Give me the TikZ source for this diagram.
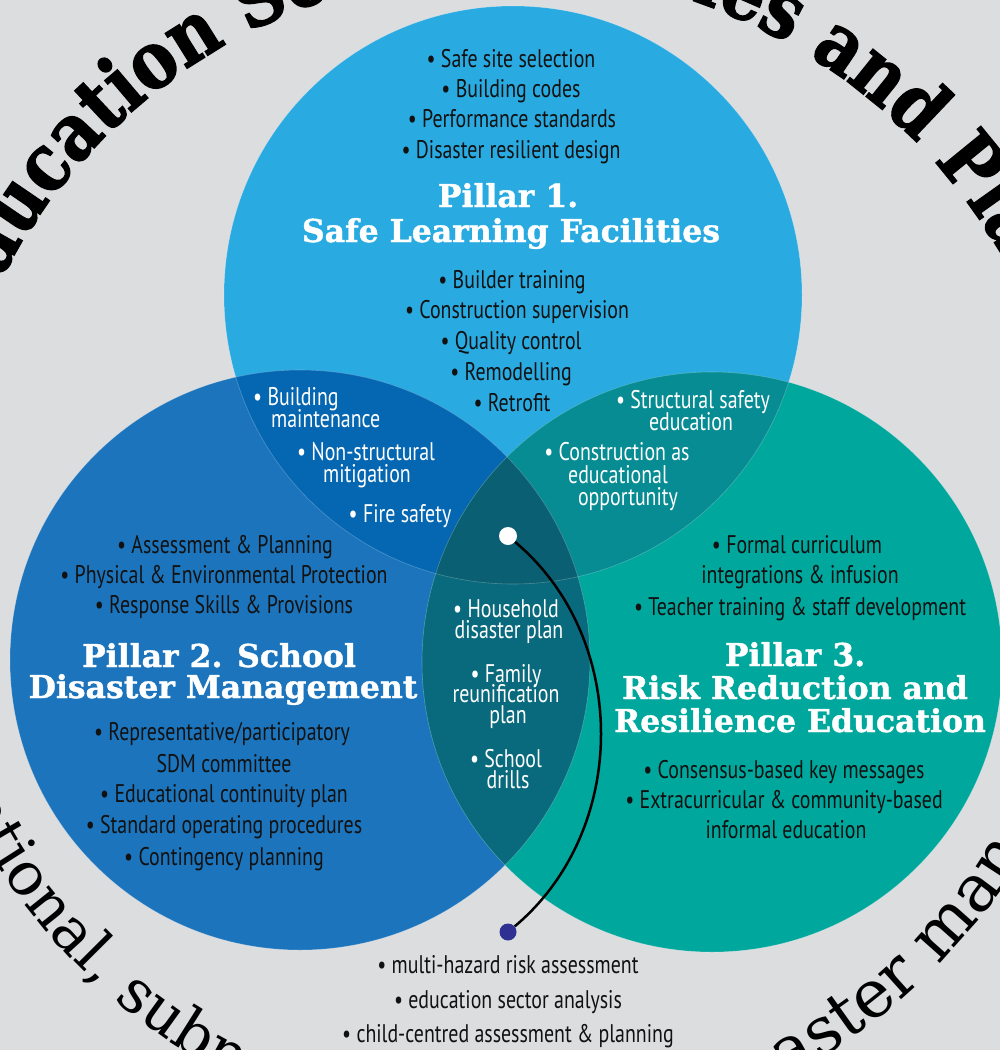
\documentclass[tikz,border=0pt]{standalone}
\usepackage{fontspec}
\usetikzlibrary{decorations.text,calc}
\setmainfont{PT Sans}
\newfontfamily\bodyfont{PT Sans}[FakeStretch=0.78]
\newfontfamily\headfont{DejaVu Serif}[BoldFeatures={FakeBold=1.2}]
\newfontfamily\ringfont{DejaVu Serif}[FakeStretch=0.85, BoldFeatures={FakeBold=1.6}]
\newfontfamily\ringlight{DejaVu Serif}

\definecolor{bg}{HTML}{DCDDDF}
\definecolor{pone}{HTML}{29ABE2}
\definecolor{ptwo}{HTML}{1C75BC}
\definecolor{pthree}{HTML}{00A79D}
\definecolor{onetwo}{HTML}{0567B1}
\definecolor{onethree}{HTML}{078C93}
\definecolor{twothree}{HTML}{0A6A7D}
\definecolor{allthree}{HTML}{0A5F72}
\definecolor{dotblue}{HTML}{2E3192}
\definecolor{ink}{HTML}{111111}

\tikzset{
  body/.style={font=\bodyfont\fontsize{25.5}{30}\selectfont, inner sep=0pt, anchor=base},
  dark/.style={body, text=ink},
  light/.style={body, text=white},
  title/.style={font=\headfont\bfseries\fontsize{31.5}{34}\selectfont, text=white, inner sep=0pt, anchor=base},
  wdot/.style={circle, fill=white, minimum size=18pt, inner sep=0pt},
  bdot/.style={circle, fill=dotblue, minimum size=17pt, inner sep=0pt},
  link/.style={line width=2.5pt, black},
  rim/.style={white, opacity=.25, line width=.6pt}
}

\begin{document}
\begin{tikzpicture}[x=1pt,y=1pt]
\useasboundingbox (0,0) rectangle (1000,-1050);
\clip (0,0) rectangle (1000,-1050);
\fill[bg] (0,0) rectangle (1000,-1050);

% ring lettering
\coordinate (O) at (508,-540);
\path[decorate, decoration={text along path, text align=center,
  text={|\ringfont\bfseries\fontsize{79.5}{79.5}\selectfont|Education Sector Policies and Plans}}]
  ($(O)+(179.5:570)$) arc[start angle=179.5, end angle=-0.5, radius=570];
\path[decorate, decoration={text along path,
  text={|\ringlight\fontsize{60}{60}\selectfont|national, subnational}}]
  ($(O)+(202.3:605)$) arc[start angle=202.3, end angle=285, radius=605];
\path[decorate, decoration={text along path,
  text={|\ringlight\fontsize{66}{66}\selectfont|disaster management}}]
  ($(O)+(288:605)$) arc[start angle=288, end angle=358, radius=605];

% the three pillars
\coordinate (T) at (513,-295);
\coordinate (L) at (300,-660);
\coordinate (R) at (712,-662);
\fill[pone] (T) circle (289);
\fill[ptwo] (L) circle (290);
\fill[pthree] (R) circle (290);
\begin{scope}\clip (T) circle (289); \fill[onetwo] (L) circle (290); \end{scope}
\begin{scope}\clip (T) circle (289); \fill[onethree] (R) circle (290); \end{scope}
\begin{scope}\clip (L) circle (290); \fill[twothree] (R) circle (290); \end{scope}
\begin{scope}\clip (T) circle (289); \clip (L) circle (290); \fill[allthree] (R) circle (290); \end{scope}
\draw[rim] (T) circle (289);
\draw[rim] (L) circle (290);
\draw[rim] (R) circle (290);

% Pillar 1
\foreach \xx/\yy/\lbl [count=\i] in {511/67/{• Safe site selection}, 511/97/{• Building codes},
    512/127/{• Performance standards}, 511/158/{• Disaster resilient design}}
  \node[dark] (pa\i) at (\xx,-\yy) {\lbl};
\node[title] (ptitlea) at (508,-207) {Pillar 1.};
\node[title] (ptitleb) at (511,-242) {Safe Learning Facilities};
\foreach \xx/\yy/\lbl [count=\i] in {512/288/{• Builder training}, 517/318/{• Construction supervision},
    511/349/{• Quality control}, 511/380/{• Remodelling}, 512/411/{• Retrofit}}
  \node[dark] (pb\i) at (\xx,-\yy) {\lbl};

% Pillar 1 and 2 overlap
\node[light, anchor=base west] (ota) at (253,-405) {• Building};
\node[light, anchor=base west] (otb) at (271,-427) {maintenance};
\node[light] (otc) at (366,-460) {• Non-structural};
\node[light] (otd) at (367,-482) {mitigation};
\node[light] (ote) at (400,-522) {• Fire safety};

% Pillar 1 and 3 overlap
\node[light] (oha) at (693,-408) {• Structural safety};
\node[light] (ohb) at (691,-430) {education};
\node[light] (ohc) at (617,-460) {• Construction as};
\node[light] (ohd) at (618,-483) {educational};
\node[light] (ohe) at (628,-505) {opportunity};

% Pillar 2 and 3 overlap
\foreach \xx/\yy/\lbl [count=\i] in {506/617/{• Household}, 509/638/{disaster plan},
    506/682/{• Family}, 506/702/{reunification}, 508/723/{plan},
    506/767/{• School}, 508/788/{drills}}
  \node[light] (oc\i) at (\xx,-\yy) {\lbl};

% Pillar 2
\foreach \xx/\yy/\lbl [count=\i] in {225/553/{• Assessment \& Planning},
    224/583/{• Physical \& Environmental Protection}, 224/613/{• Response Skills \& Provisions}}
  \node[dark] (la\i) at (\xx,-\yy) {\lbl};
\node[title] (ltitlea) at (219,-667) {Pillar 2. School};
\node[title] (ltitleb) at (223,-698) {Disaster Management};
\foreach \xx/\yy/\lbl [count=\i] in {222/740/{• Representative/participatory}, 224/772/{SDM committee},
    224/802/{• Educational continuity plan}, 224/833/{• Standard operating procedures},
    224/865/{• Contingency planning}}
  \node[dark] (lb\i) at (\xx,-\yy) {\lbl};

% Pillar 3
\foreach \xx/\yy/\lbl [count=\i] in {797/553/{• Formal curriculum}, 800/583/{integrations \& infusion},
    800/615/{• Teacher training \& staff development}}
  \node[dark] (ra\i) at (\xx,-\yy) {\lbl};
\node[title] (rtitlea) at (795,-666) {Pillar 3.};
\node[title] (rtitleb) at (795,-699) {Risk Reduction and};
\node[title] (rtitlec) at (800,-732) {Resilience Education};
\foreach \xx/\yy/\lbl [count=\i] in {784/778/{• Consensus-based key messages},
    784/808/{• Extracurricular \& community-based}, 786/838/{informal education}}
  \node[dark] (rb\i) at (\xx,-\yy) {\lbl};

% assessment list below the diagram
\foreach \xx/\yy/\lbl [count=\i] in {508/973/{• multi-hazard risk assessment},
    508/1008/{• education sector analysis}, 508/1042/{• child-centred assessment \& planning}}
  \node[dark] (bl\i) at (\xx,-\yy) {\lbl};

% link from the common core to the assessment list
\node[wdot] (core) at (508,-536) {};
\node[bdot] (base) at (508,-932) {};
\draw[link] (core) to[out=-40, in=40, looseness=1] (base);
\end{tikzpicture}
\end{document}
